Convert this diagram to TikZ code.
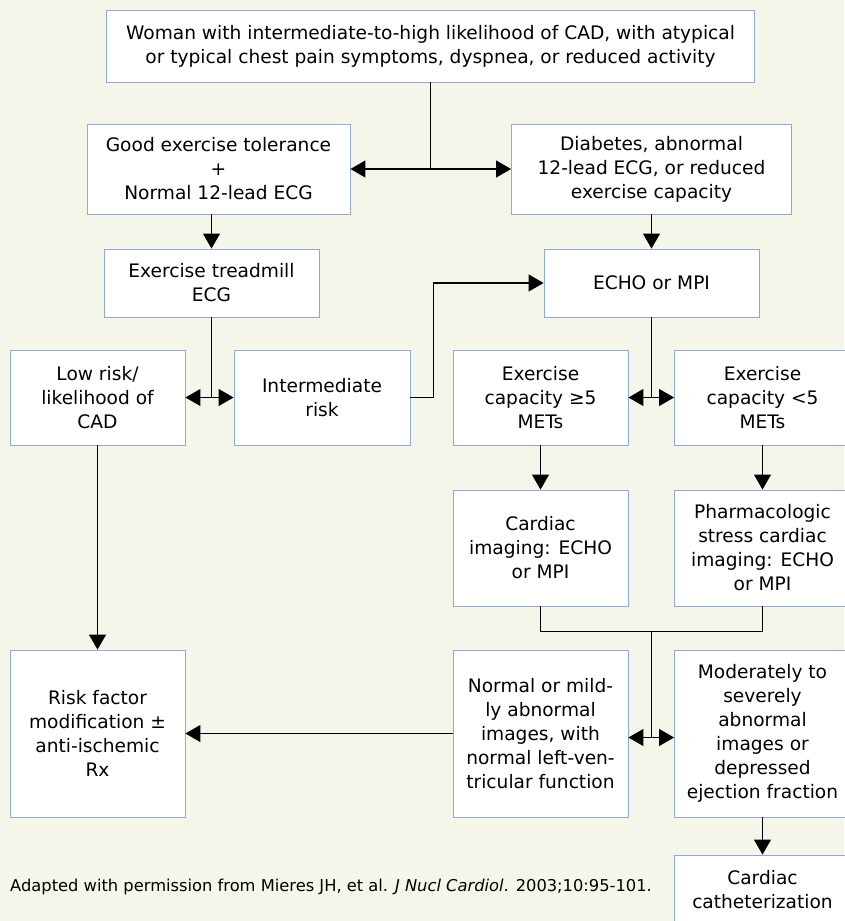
\documentclass[tikz,border=0pt]{standalone}
\usepackage{fontspec}
\setmainfont{DejaVu Sans}
\usetikzlibrary{arrows.meta}
\definecolor{bgcol}{RGB}{244,246,234}
\definecolor{boxline}{RGB}{148,168,214}
\begin{document}
\begin{tikzpicture}[x=1pt,y=-1pt,
  box/.style={draw=boxline, line width=0.9pt, fill=white, align=center, inner sep=0pt,
    font=\fontsize{18.6}{24}\selectfont},
  conn/.style={line width=1.2pt, draw=black},
  arr/.style={conn, -{Triangle[length=15pt,width=17pt]}},
  arrtwo/.style={conn, {Triangle[length=15pt,width=17pt]}-{Triangle[length=15pt,width=17pt]}}]
\fill[bgcol] (0,0) rectangle (844,921);
\useasboundingbox (0,0) rectangle (844,921);

\node[box, minimum width=648pt, minimum height=72pt] (top) at (430.5,46)
  {Woman with intermediate-to-high likelihood of CAD, with atypical\\or typical chest pain symptoms, dyspnea, or reduced activity};
\node[box, minimum width=263pt, minimum height=90pt] (good) at (218.5,169)
  {Good exercise tolerance\\+\\Normal 12-lead ECG};
\node[box, minimum width=280pt, minimum height=90pt] (diab) at (651.5,169)
  {Diabetes, abnormal\\12-lead ECG, or reduced\\exercise capacity};
\node[box, minimum width=215pt, minimum height=68pt] (tread) at (211.5,283)
  {Exercise treadmill\\ECG};
\node[box, minimum width=215pt, minimum height=68pt] (echo) at (651.5,283)
  {ECHO or MPI};
\node[box, minimum width=175pt, minimum height=95pt] (low) at (97.5,397.5)
  {Low risk/\\likelihood of\\CAD};
\node[box, minimum width=176pt, minimum height=95pt] (inter) at (322,397.5)
  {Intermediate\\risk};
\node[box, minimum width=175pt, minimum height=95pt] (exa) at (540.5,397.5)
  {Exercise\\capacity ≥5\\METs};
\node[box, minimum width=176pt, minimum height=95pt] (exb) at (762.5,397.5)
  {Exercise\\capacity <5\\METs};
\node[box, minimum width=175pt, minimum height=116pt] (cimg) at (540.5,548)
  {Cardiac\\imaging: ECHO\\or MPI};
\node[box, minimum width=176pt, minimum height=116pt] (pharm) at (762.5,548)
  {Pharmacologic\\stress cardiac\\imaging: ECHO\\or MPI};
\node[box, minimum width=175pt, minimum height=167pt] (risk) at (97.5,733.5)
  {Risk factor\\modification ±\\anti-ischemic\\Rx};
\node[box, minimum width=175pt, minimum height=167pt] (normal) at (540.5,733.5)
  {Normal or mild-\\ly abnormal\\images, with\\normal left-ven-\\tricular function};
\node[box, minimum width=176pt, minimum height=167pt] (mod) at (762.5,733.5)
  {Moderately to\\severely\\abnormal\\images or\\depressed\\ejection fraction};
\node[box, minimum width=176pt, minimum height=70pt] (cath) at (762.5,890)
  {Cardiac\\catheterization};

\node[anchor=west, inner sep=0pt, font=\fontsize{16.3}{20}\selectfont] (cap) at (10,887)
  {Adapted with permission from Mieres JH, et al. \textit{J Nucl Cardiol}. 2003;10:95-101.};

% connectors
\draw[conn] (top.south) -- (top.south |- good);
\draw[arrtwo] (good) -- (diab);
\draw[arr] (tread.north |- good.south) -- (tread.north);
\draw[arr] (echo.north |- diab.south) -- (echo.north);
\draw[conn] (tread.south) -- (tread.south |- low);
\draw[arrtwo] (low) -- (inter);
\coordinate (bend) at (433.5,397.5);
\draw[arr] (inter.east) -- (bend) |- (echo.west);
\draw[conn] (echo.south) -- (echo.south |- exa);
\draw[arrtwo] (exa) -- (exb);
\draw[arr] (exa) -- (cimg);
\draw[arr] (exb) -- (pharm);
\coordinate (merge) at (651.5,631.5);
\draw[conn] (cimg.south) |- (merge) -| (pharm.south);
\coordinate (mj) at (651.5,737.5);
\draw[conn] (merge) -- (mj);
\draw[arrtwo] (normal.east |- mj) -- (mod.west |- mj);
\draw[arr] (normal.west) -- (risk.east);
\draw[arr] (low) -- (risk);
\draw[arr] (mod) -- (cath);
\end{tikzpicture}
\end{document}
